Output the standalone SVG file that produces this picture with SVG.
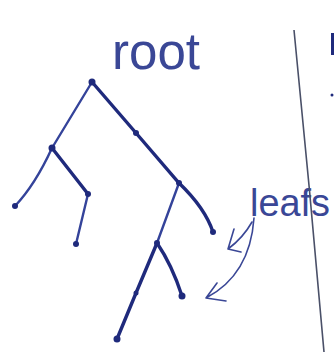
<svg xmlns="http://www.w3.org/2000/svg" width="334" height="352" viewBox="0 0 334 352">
<style>
.e{stroke:#1f2a7c;stroke-width:3.4;fill:none;stroke-linecap:round}
.l{stroke:#34439a;stroke-width:2.4}
.n{fill:#1f2a7c}
.t{font-family:"Liberation Sans",Arial,sans-serif;fill:#3a4796}
.a{stroke:#3a4796;stroke-width:1.6;fill:none;stroke-linecap:round;stroke-linejoin:round}
</style>
<rect width="334" height="352" fill="#ffffff"/>
<text class="t" x="112" y="69" font-size="52" font-weight="300" textLength="88" lengthAdjust="spacingAndGlyphs">root</text>
<text class="t" x="250" y="216" font-size="38" textLength="80" lengthAdjust="spacingAndGlyphs">leafs</text>
<path d="M294 30 Q310 190 324 352" stroke="#4a5068" stroke-width="1.6" fill="none"/>
<path d="M333 33 L333 55" stroke="#1f2a7c" stroke-width="4"/>
<circle cx="332" cy="95" r="1.5" fill="#1f2a7c"/>
<g id="connectors">
<path class="e l" d="M92 82 L52 148"/>
<path class="e" d="M92 82 L136 133 L179 183 Q205 208 213 232"/>
<path class="e l" d="M52 148 Q35 185 15 206"/>
<path class="e" d="M52 148 L88 194"/>
<path class="e l" d="M88 194 L76 244"/>
<path class="e l" d="M179 183 L157 243"/>
<path class="e" d="M157 243 Q172 265 182 296"/>
<path class="e" d="M157 243 L136 293 L117 339"/>
<path class="a" d="M252 222 Q243 238 228 249 M228 249 L234 229 M228 249 L241 252"/>
<path class="a" d="M254 218 Q250 275 206 298 M206 298 L217 283 M206 298 L226 301"/>
</g>
<g id="root"><circle class="n" cx="92" cy="82" r="3.5"/></g>
<g id="n1"><circle class="n" cx="52" cy="148" r="3.5"/></g>
<g id="n2"><circle class="n" cx="136" cy="133" r="3"/></g>
<g id="n3"><circle class="n" cx="179" cy="183" r="3"/></g>
<g id="n4"><circle class="n" cx="213" cy="232" r="3"/></g>
<g id="n5"><circle class="n" cx="15" cy="206" r="3"/></g>
<g id="n6"><circle class="n" cx="88" cy="194" r="3"/></g>
<g id="n7"><circle class="n" cx="76" cy="244" r="3"/></g>
<g id="n8"><circle class="n" cx="157" cy="243" r="3"/></g>
<g id="n9"><circle class="n" cx="182" cy="296" r="3.5"/></g>
<g id="n10"><circle class="n" cx="136" cy="293" r="2.5"/></g>
<g id="n11"><circle class="n" cx="117" cy="339" r="3.5"/></g>
</svg>
